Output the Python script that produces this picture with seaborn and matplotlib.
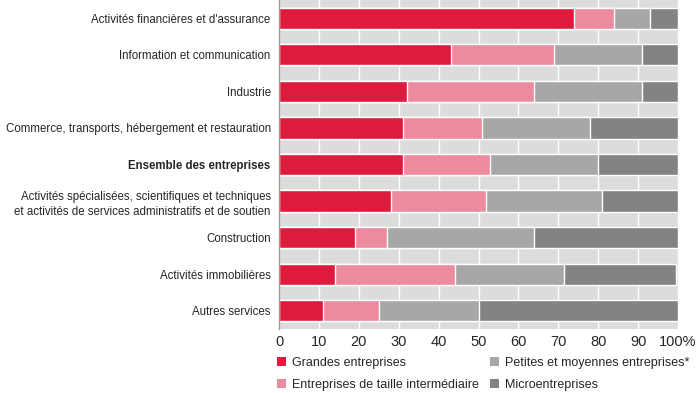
import numpy as np
import pandas as pd
import matplotlib
matplotlib.use('Agg')
import matplotlib.pyplot as plt
from matplotlib.patches import Patch
import seaborn as sns

# Data (share of each company size, in %)
sectors = [
    "Activités financières et d'assurance",
    "Information et communication",
    "Industrie",
    "Commerce, transports, hébergement et restauration",
    "Ensemble des entreprises",
    "Activités spécialisées, scientifiques et techniques\net activités de services administratifs et de soutien",
    "Construction",
    "Activités immobilières",
    "Autres services",
]
grandes = [74, 43, 32, 31, 31, 28, 19, 14, 11]
eti = [10, 26, 32, 20, 22, 24, 8, 30, 14]
pme = [9, 22, 27, 27, 27, 29, 37, 27.5, 25]
micro = [7, 9, 9, 22, 20, 19, 36, 28, 50]

series_names = ["Grandes entreprises", "Entreprises de taille intermédiaire",
                "Petites et moyennes entreprises*", "Microentreprises"]
colors = ["#dc1b3d", "#eb8b9d", "#a7a7a7", "#838383"]

df = pd.DataFrame({"secteur": sectors, series_names[0]: grandes,
                   series_names[1]: eti, series_names[2]: pme,
                   series_names[3]: micro})
cum = df[series_names].cumsum(axis=1)

sns.set_theme(style="white")
plt.rcParams['font.family'] = ['Liberation Sans', 'DejaVu Sans']

fig = plt.figure(figsize=(7, 3.93), dpi=100)
ax = fig.add_axes([279 / 700, 1 - 329 / 393, 399 / 700, 329 / 393])
ax.set_facecolor("#dcdcdc")

# stacked bars: draw cumulative totals from the largest down
for name, col in reversed(list(zip(series_names, colors))):
    sns.barplot(x=cum[name], y=df["secteur"], orient="h", color=col,
                width=0.58, saturation=1, ax=ax, zorder=2)

ax.set_xlim(0, 100)
ax.set_xticks(range(0, 101, 10))
ax.set_xticklabels([str(v) for v in range(0, 100, 10)] + ["100%"], fontsize=10.5)
ax.xaxis.grid(True, color="white", linewidth=1, zorder=1)
ax.set_axisbelow(True)
ax.set_xlabel("")
ax.set_ylabel("")
ax.tick_params(axis="y", length=0, pad=6, labelsize=8.3)
ax.tick_params(axis="x", length=0, pad=4)
for lbl in ax.get_yticklabels():
    lbl.set_horizontalalignment("right")
    lbl.set_linespacing(1.35)
    if lbl.get_text() == "Ensemble des entreprises":
        lbl.set_fontweight("bold")
for s in ax.spines.values():
    s.set_visible(False)
ax.spines["left"].set_visible(True)
ax.spines["left"].set_color("#9a9a9a")
ax.spines["left"].set_linewidth(1)

handles = [Patch(facecolor=c, edgecolor="none") for c in colors]
fig.legend(handles, series_names, loc="upper left", ncol=2,
           bbox_to_anchor=(277 / 700, 1 - 357 / 393), frameon=False,
           fontsize=9, handlelength=0.7, handleheight=0.7,
           handletextpad=0.5, columnspacing=0.9, labelspacing=0.8,
           borderaxespad=0, borderpad=0)

fig.savefig("out.png", dpi=100)
